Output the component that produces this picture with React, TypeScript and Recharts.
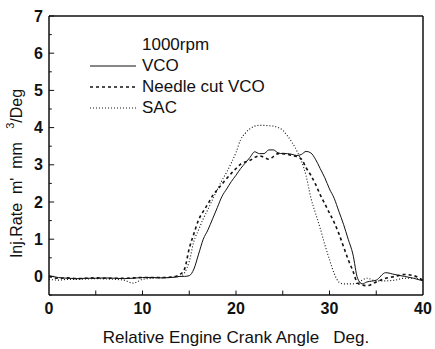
import { LineChart, Line, XAxis, YAxis, ReferenceLine } from "recharts";

// crank angle (deg) shared by all three traces
const ANGLE = [
  0, 1, 2, 3, 4, 5, 6, 7, 8, 9, 10, 11, 12, 13,
  13.5, 14, 14.5, 15, 15.5, 16, 16.5, 17, 17.5, 18, 18.5, 19, 19.5, 20, 20.5, 21, 21.5,
  22, 22.5, 23, 23.5, 24, 24.5, 25, 25.5, 26, 26.5, 27, 27.5, 28, 28.5, 29, 29.5, 30,
  30.5, 31, 31.5, 32, 32.5, 33, 33.5, 34,
  35, 36, 37, 38, 39, 40,
];

const VCO = [
  0.02, -0.03, -0.05, -0.06, -0.05, -0.05, -0.04, -0.05, -0.06, -0.05, -0.03, -0.03, -0.04, -0.03,
  -0.02, 0.0, 0.0, 0.02, 0.2, 0.6, 1.0, 1.25, 1.55, 1.85, 2.15, 2.35, 2.55, 2.72, 2.9, 3.05, 3.2,
  3.35, 3.3, 3.3, 3.4, 3.4, 3.32, 3.3, 3.3, 3.28, 3.25, 3.28, 3.36, 3.32, 3.15, 2.9, 2.65, 2.35,
  2.1, 1.75, 1.4, 1.0, 0.6, -0.05, -0.2, -0.15,
  -0.1, 0.1, 0.05, 0.0, -0.05, -0.12,
];

const NEEDLE_CUT = [
  0.0, -0.05, -0.04, -0.06, -0.05, -0.04, -0.05, -0.05, -0.05, -0.04, -0.03, -0.03, -0.03, -0.02,
  0.0, 0.05, 0.2, 0.75, 1.15, 1.52, 1.75, 1.95, 2.17, 2.33, 2.48, 2.63, 2.77, 2.9, 3.02, 3.08, 3.12,
  3.2, 3.24, 3.2, 3.15, 3.22, 3.3, 3.3, 3.28, 3.25, 3.22, 3.15, 2.92, 2.72, 2.48, 2.2, 1.95, 1.7,
  1.45, 1.15, 0.8, 0.45, 0.15, -0.18, -0.23, -0.25,
  -0.15, -0.05, 0.0, 0.05, 0.02, -0.1,
];

const SAC = [
  -0.08, -0.1, -0.08, -0.08, -0.07, -0.06, -0.07, -0.08, -0.1, -0.18, -0.08, -0.05, -0.04, -0.03,
  -0.02, 0.0, 0.1, 0.4, 0.95, 1.25, 1.55, 1.8, 2.07, 2.33, 2.58, 2.8, 3.05, 3.33, 3.68, 3.85, 3.97,
  4.04, 4.06, 4.06, 4.05, 4.04, 4.0, 3.93, 3.78, 3.6, 3.38, 3.1, 2.7, 2.12, 1.7, 1.3, 0.85, 0.45,
  0.08, -0.15, -0.2, -0.2, -0.2, -0.18, -0.1, -0.05,
  -0.12, -0.12, -0.1, -0.05, -0.05, -0.1,
];

const X_TICKS = [0, 10, 20, 30, 40];
const X_MINOR = [5, 10, 15, 20, 25, 30, 35];
const Y_TICKS = [0, 1, 2, 3, 4, 5, 6, 7];
const Y_MINOR = [-0.5, 0.5, 1.5, 2.5, 3.5, 4.5, 5.5, 6.5];

const data = ANGLE.map((a, i) => ({
  angle: a,
  vco: VCO[i],
  needle: NEEDLE_CUT[i],
  sac: SAC[i],
}));

const FONT = "'Liberation Sans', Arial, sans-serif";
const INK = "#111";
const NB = "\u00a0";

const LEGEND_ROWS = [
  { label: "VCO", dash: undefined, width: 1 },
  { label: "Needle cut VCO", dash: "3 3", width: 1.4 },
  { label: "SAC", dash: "1 2", width: 1 },
];

function ChartLegend() {
  return (
    <div style={{ position: "absolute", left: 90, top: 34, fontFamily: FONT, fontSize: 17,
      color: INK, lineHeight: "21px" }}>
      <div style={{ paddingLeft: 52 }}>1000rpm</div>
      {LEGEND_ROWS.map((r) => (
        <div key={r.label} style={{ display: "flex", alignItems: "center", height: 21 }}>
          <svg width={46} height={6} style={{ marginRight: 6 }}>
            <line x1={0} y1={3} x2={46} y2={3} stroke={INK}
              strokeWidth={r.width} strokeDasharray={r.dash} />
          </svg>
          <span>{r.label}</span>
        </div>
      ))}
    </div>
  );
}

function YLabel({ viewBox }: { viewBox?: { x: number; y: number; width: number; height: number } }) {
  const vb = viewBox || { x: 0, y: 0, width: 0, height: 0 };
  const cx = 22;
  const cy = vb.y + vb.height / 2 + 18;
  return (
    <text x={cx} y={cy} transform={`rotate(-90, ${cx}, ${cy})`} textAnchor="middle"
      fontFamily={FONT} fontSize={16} fill={INK}>
      <tspan>{`Inj.Rate${NB}${NB}m'${NB}${NB}mm${NB}${NB}${NB}`}</tspan>
      <tspan fontSize={11} dy={-8}>3</tspan>
      <tspan dy={8}>/Deg</tspan>
    </text>
  );
}

export default function App() {
  const tickStyle = { fill: INK, fontSize: 16, fontWeight: "bold" as const, fontFamily: FONT };
  return (
    <div style={{ position: "absolute", left: 0, top: 0, width: 435, height: 349, background: "#fff" }}>
      <LineChart width={435} height={349} data={data}
        margin={{ top: 16, right: 12, left: 0, bottom: 0 }}>
        <XAxis dataKey="angle" type="number" domain={[0, 40]} ticks={X_TICKS}
          tick={tickStyle} tickLine={false} height={54}
          axisLine={{ stroke: INK, strokeWidth: 1.5 }}
          label={{ value: `Relative Engine Crank Angle${NB}${NB}${NB}Deg.`, position: "insideBottom",
            offset: 6, fill: INK, fontSize: 17, fontFamily: FONT }} />
        <YAxis type="number" domain={[-0.5, 7]} ticks={Y_TICKS} width={49}
          tick={tickStyle} tickLine={false} tickMargin={0}
          axisLine={{ stroke: INK, strokeWidth: 1.5 }}
          label={<YLabel />} />
        <ReferenceLine y={7} stroke={INK} strokeWidth={1.5} />
        <ReferenceLine x={40} stroke={INK} strokeWidth={1.5} />
        {X_MINOR.map((v) => (
          <ReferenceLine key={`xt${v}`} segment={[{ x: v, y: -0.5 }, { x: v, y: -0.38 }]}
            stroke={INK} strokeWidth={1} />
        ))}
        {Y_TICKS.map((v) => (
          <ReferenceLine key={`yt${v}`} segment={[{ x: 0, y: v }, { x: 0.55, y: v }]}
            stroke={INK} strokeWidth={1} />
        ))}
        {Y_MINOR.map((v) => (
          <ReferenceLine key={`ym${v}`} segment={[{ x: 0, y: v }, { x: 0.3, y: v }]}
            stroke={INK} strokeWidth={1} />
        ))}
        <Line type="monotone" dataKey="sac" stroke={INK} strokeWidth={1.1}
          strokeDasharray="1 2" dot={false} isAnimationActive={false} />
        <Line type="monotone" dataKey="needle" stroke={INK} strokeWidth={1.6}
          strokeDasharray="3 3" dot={false} isAnimationActive={false} />
        <Line type="monotone" dataKey="vco" stroke={INK} strokeWidth={1}
          dot={false} isAnimationActive={false} />
      </LineChart>
      <ChartLegend />
    </div>
  );
}
